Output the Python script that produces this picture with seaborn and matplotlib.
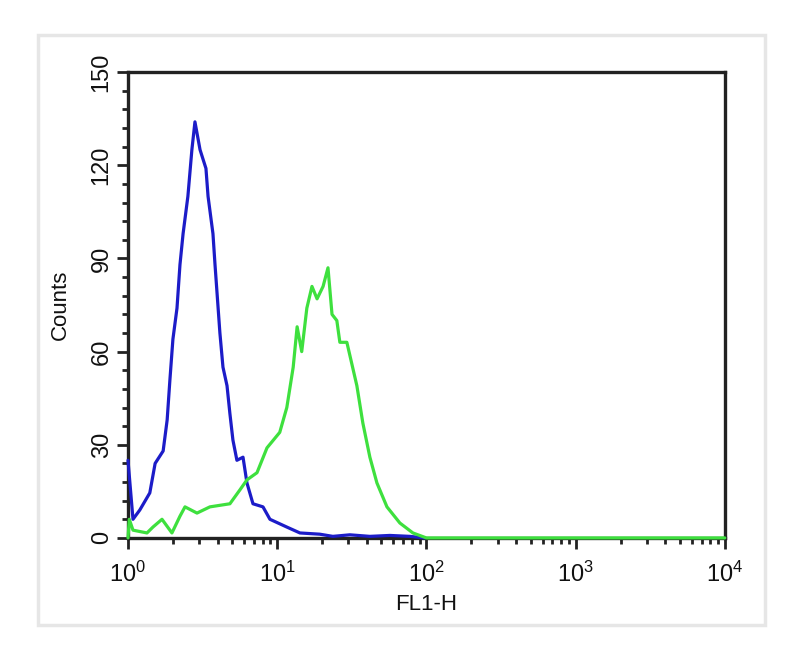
import numpy as np
import pandas as pd
import matplotlib
matplotlib.use('Agg')
import matplotlib.pyplot as plt
import matplotlib.ticker as mticker
from matplotlib.patches import Rectangle
import seaborn as sns

sns.set_style('white')
plt.rcParams['font.family'] = ['Liberation Sans', 'DejaVu Sans']
plt.rcParams['mathtext.fontset'] = 'custom'
plt.rcParams['mathtext.rm'] = 'Liberation Sans'

# control (blue) histogram
blue_x = [1.00, 1.08, 1.20, 1.40, 1.52, 1.72, 1.83, 1.91, 2.00, 2.13, 2.23, 2.34,
          2.52, 2.68, 2.81, 3.04, 3.33, 3.44, 3.71, 3.83, 3.95, 4.13, 4.33, 4.61,
          4.82, 5.05, 5.37, 5.90, 6.27, 6.88, 8.03, 8.94, 11.6, 14.2, 19.3, 23.6,
          30.7, 41.8, 56.9, 77.5, 97.7]
blue_y = [25, 6, 9, 14.5, 24, 28, 38, 51, 64, 74, 88, 98,
          110, 125, 134, 125, 119, 110, 98, 88, 79, 66, 55, 49,
          40, 31.5, 25, 26, 17.7, 11, 10, 6, 3.5, 1.6, 1.2, 0.5,
          1.0, 0.5, 0.8, 0.5, 0]

# stained sample (green) histogram
green_x = [1.00, 1.02, 1.08, 1.34, 1.47, 1.69, 1.97, 2.23, 2.41, 2.90, 3.54, 4.82,
           5.63, 6.27, 7.32, 8.54, 10.4, 11.6, 12.8, 13.6, 14.6, 15.8, 17.1, 18.5,
           20.3, 21.9, 23.3, 25.1, 26.3, 29.3, 34.2, 37.5, 41.8, 46.6, 54.4, 66.4,
           81.2, 100, 10000]
green_y = [0, 6, 2.5, 1.6, 3.5, 6, 1.6, 7, 10, 8, 10, 11,
           15.5, 18.7, 21, 29, 34, 42, 55, 68, 60, 74, 81, 77,
           81, 87, 72, 70, 63, 63, 49, 37, 26, 17.7, 10, 4.8,
           1.6, 0, 0]

df_blue = pd.DataFrame({'FL1-H': blue_x, 'Counts': blue_y})
df_green = pd.DataFrame({'FL1-H': green_x, 'Counts': green_y})

fig = plt.figure(figsize=(8, 6.56), dpi=100)
ax = fig.add_axes([0.16, 0.18, 0.746, 0.71])

# light frame around the whole picture
fig.patches.append(Rectangle((38 / 800, 1 - 625 / 656), 727 / 800, 590 / 656,
                             transform=fig.transFigure, fill=False,
                             edgecolor='#e6e6e6', linewidth=2.5))

sns.lineplot(data=df_blue, x='FL1-H', y='Counts', ax=ax, color='#1c1cc8',
             linewidth=2.3, estimator=None, sort=False)
sns.lineplot(data=df_green, x='FL1-H', y='Counts', ax=ax, color='#3ee03e',
             linewidth=2.3, estimator=None, sort=False)
for ln in ax.lines:
    ln.set_zorder(3)
    ln.set_clip_on(False)

ax.set_xscale('log')
ax.set_xlim(1, 10000)
ax.set_ylim(0, 150)
ax.set_yticks([0, 30, 60, 90, 120, 150])
ax.yaxis.set_minor_locator(mticker.MultipleLocator(6))
ax.xaxis.set_minor_locator(mticker.LogLocator(base=10, subs=np.arange(2, 10)))
ax.xaxis.set_minor_formatter(mticker.NullFormatter())

for s in ax.spines.values():
    s.set_color('#222222')
    s.set_linewidth(2.4)

ax.tick_params(axis='both', which='major', direction='out', length=8, width=2,
               color='#222222', labelsize=17, labelcolor='#111111', pad=3)
ax.tick_params(axis='both', which='minor', direction='out', length=4, width=2,
               color='#222222')
ax.tick_params(axis='y', left=True, which='both')
ax.tick_params(axis='x', bottom=True, which='both', pad=9)
for lab in ax.get_yticklabels():
    lab.set_rotation(90)
    lab.set_va('center')

ax.set_xlabel('FL1-H', fontsize=16, color='#111111', labelpad=5)
ax.set_ylabel('Counts', fontsize=16, color='#111111', labelpad=14)

fig.savefig('out.png', dpi=100)
